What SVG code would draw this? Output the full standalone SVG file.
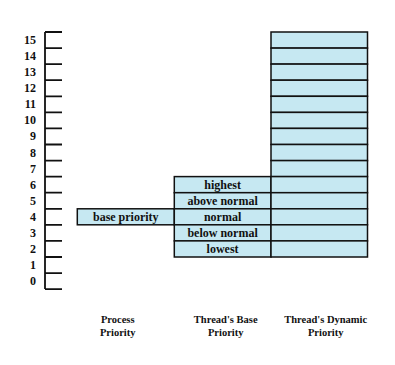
<svg xmlns="http://www.w3.org/2000/svg" width="395" height="365" viewBox="0 0 395 365">
<style>
.cell{fill:#c6e8f2;stroke:#111;stroke-width:1.5}
.ax{stroke:#111;stroke-width:1.8;fill:none}
.num{font-family:"Liberation Serif",serif;font-weight:bold;font-size:12px;fill:#111;text-anchor:end}
.lbl{font-family:"Liberation Serif",serif;font-weight:bold;font-size:12px;fill:#111;text-anchor:middle}
.cap{font-family:"Liberation Serif",serif;font-weight:bold;font-size:10.5px;fill:#111;text-anchor:middle}
</style>
<rect width="395" height="365" fill="#fff"/>
<g id="axis">
<path class="ax" d="M45,32V289.1 M45,32H62 M45,48.1H62 M45,64.1H62 M45,80.2H62 M45,96.3H62 M45,112.4H62 M45,128.4H62 M45,144.5H62 M45,160.6H62 M45,176.6H62 M45,192.7H62 M45,208.8H62 M45,224.8H62 M45,240.9H62 M45,257H62 M45,273.1H62 M45,289.1H62"/>
<text class="num" x="36" y="44">15</text>
<text class="num" x="36" y="60.1">14</text>
<text class="num" x="36" y="76.1">13</text>
<text class="num" x="36" y="92.2">12</text>
<text class="num" x="36" y="108.3">11</text>
<text class="num" x="36" y="124.4">10</text>
<text class="num" x="36" y="140.4">9</text>
<text class="num" x="36" y="156.5">8</text>
<text class="num" x="36" y="172.6">7</text>
<text class="num" x="36" y="188.6">6</text>
<text class="num" x="36" y="204.7">5</text>
<text class="num" x="36" y="220.8">4</text>
<text class="num" x="36" y="236.8">3</text>
<text class="num" x="36" y="252.9">2</text>
<text class="num" x="36" y="269">1</text>
<text class="num" x="36" y="285.1">0</text>
</g>
<g id="process-priority">
<rect class="cell" x="77.3" y="208.8" width="97" height="16"/>
<text class="lbl" x="125.8" y="220.8">base priority</text>
</g>
<g id="thread-base-priority">
<rect class="cell" x="174.3" y="176.6" width="96.7" height="16.1"/>
<rect class="cell" x="174.3" y="192.7" width="96.7" height="16.1"/>
<rect class="cell" x="174.3" y="208.8" width="96.7" height="16"/>
<rect class="cell" x="174.3" y="224.8" width="96.7" height="16.1"/>
<rect class="cell" x="174.3" y="240.9" width="96.7" height="16.1"/>
<text class="lbl" x="222.6" y="188.6">highest</text>
<text class="lbl" x="222.6" y="204.7">above normal</text>
<text class="lbl" x="222.6" y="220.8">normal</text>
<text class="lbl" x="222.6" y="236.8">below normal</text>
<text class="lbl" x="222.6" y="252.9">lowest</text>
</g>
<g id="thread-dynamic-priority">
<rect class="cell" x="271" y="32" width="96.5" height="16.1"/>
<rect class="cell" x="271" y="48.1" width="96.5" height="16"/>
<rect class="cell" x="271" y="64.1" width="96.5" height="16.1"/>
<rect class="cell" x="271" y="80.2" width="96.5" height="16.1"/>
<rect class="cell" x="271" y="96.3" width="96.5" height="16.1"/>
<rect class="cell" x="271" y="112.4" width="96.5" height="16"/>
<rect class="cell" x="271" y="128.4" width="96.5" height="16.1"/>
<rect class="cell" x="271" y="144.5" width="96.5" height="16.1"/>
<rect class="cell" x="271" y="160.6" width="96.5" height="16"/>
<rect class="cell" x="271" y="176.6" width="96.5" height="16.1"/>
<rect class="cell" x="271" y="192.7" width="96.5" height="16.1"/>
<rect class="cell" x="271" y="208.8" width="96.5" height="16"/>
<rect class="cell" x="271" y="224.8" width="96.5" height="16.1"/>
<rect class="cell" x="271" y="240.9" width="96.5" height="16.1"/>
</g>
<g id="captions">
<text class="cap" x="117.7" y="323">Process</text>
<text class="cap" x="117.7" y="336.4">Priority</text>
<text class="cap" x="225.7" y="323">Thread's Base</text>
<text class="cap" x="225.7" y="336.4">Priority</text>
<text class="cap" x="325.7" y="323">Thread's Dynamic</text>
<text class="cap" x="325.7" y="336.4">Priority</text>
</g>
<g id="connectors"/>
</svg>
